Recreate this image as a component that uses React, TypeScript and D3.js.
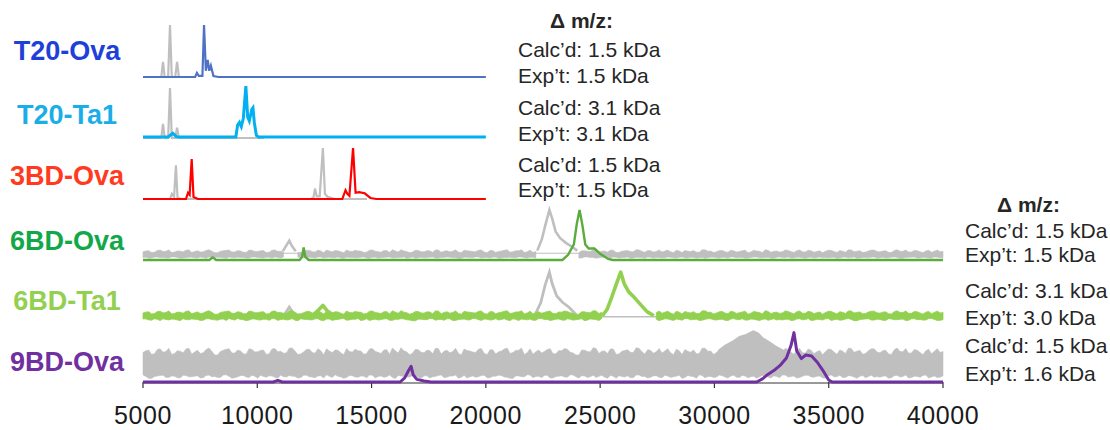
import React from "react";
import * as d3 from "d3";

type Pt = [number, number];

// ---------- data ----------
const X_TICKS = [5000, 10000, 15000, 20000, 25000, 30000, 35000, 40000];
const SAMPLE_NAMES = ["T20-Ova", "T20-Ta1", "3BD-Ova", "6BD-Ova", "6BD-Ta1", "9BD-Ova"];
const DELTA_TITLE = "Δ m/z:";
const ANNOT_TOP = [
  ["Calc’d: 1.5 kDa", "Exp’t: 1.5 kDa"],
  ["Calc’d: 3.1 kDa", "Exp’t: 3.1 kDa"],
  ["Calc’d: 1.5 kDa", "Exp’t: 1.5 kDa"],
];
const ANNOT_BOTTOM = [
  ["Calc’d: 1.5 kDa", "Exp’t: 1.5 kDa"],
  ["Calc’d: 3.1 kDa", "Exp’t: 3.0 kDa"],
  ["Calc’d: 1.5 kDa", "Exp’t: 1.6 kDa"],
];

// T20-Ova
const T20_OVA_CTRL: Pt[] = [[5000,0],[5800,0],[5875,0.29],[5950,0],[6100,0],[6181,1.0],[6260,0],[6410,0],[6490,0.29],[6570,0],[7200,0]];
const T20_OVA_CONJ: Pt[] = [[5000,0],[7280,0],[7360,0.08],[7440,0.02],[7600,0.02],[7670,1.0],[7750,0.12],[7830,0.33],[7900,0.12],[7970,0.22],[8080,0.02],[8300,0],[20000,0]];
// T20-Ta1
const T20_TA1_CTRL: Pt[] = [[5000,0],[5800,0],[5875,0.27],[5950,0],[6100,0],[6181,0.96],[6260,0],[6410,0],[6490,0.2],[6570,0],[10300,0]];
const T20_TA1_CONJ: Pt[] = [[5000,0.02],[6100,0.02],[6300,0.09],[6480,0.02],[9060,0.02],[9140,0.25],[9220,0.3],[9300,0.22],[9390,0.38],[9500,1.0],[9580,0.4],[9650,0.33],[9760,0.55],[9810,0.58],[9870,0.3],[9960,0.05],[10060,0.02],[20000,0.02]];
// 3BD-Ova
const BD3_OVA_CTRL: Pt[] = [[5000,0],[6180,0],[6260,0.1],[6360,0.04],[6440,0.65],[6510,0.03],[6650,0],[12350,0],[12460,0.03],[12525,0.2],[12600,0.05],[12730,0.05],[12870,0.98],[12960,0.1],[13080,0.04],[13400,0],[14800,0]];
const BD3_OVA_CONJ: Pt[] = [[5000,0],[6880,0],[6970,0.12],[7040,0.08],[7130,0.77],[7210,0.04],[7400,0],[13720,0],[13860,0.17],[13940,0.1],[14030,0.06],[14190,0.98],[14300,0.12],[14450,0.13],[14700,0.11],[14950,0.02],[15200,0],[20000,0]];
// 6BD-Ova
const BD6_OVA_CTRL_PEAKS: Pt[][] = [
  [[11120,0.17],[11300,0.3],[11400,0.37],[11500,0.28],[11680,0.17]],
  [[22250,0.18],[22450,0.4],[22620,0.7],[22780,0.96],[22900,0.8],[23050,0.55],[23250,0.42],[23500,0.33],[23750,0.26],[24000,0.18]],
];
const BD6_OVA_CTRL_GAPS: Pt[] = [[11150, 11650], [22280, 23980]];
const BD6_OVA_CONJ: Pt[] = [[5000,0],[7900,0],[8050,0.05],[8200,0],[11850,0],[11960,0.06],[12030,0.24],[12100,0.06],[12250,0],[23350,0],[23600,0.1],[23850,0.3],[23980,0.7],[24100,0.96],[24220,0.68],[24350,0.3],[24500,0.22],[24750,0.22],[25000,0.12],[25350,0.02],[25550,0],[40000,0]];
// 6BD-Ta1
const BD6_TA1_CTRL_PEAKS: Pt[][] = [
  [[11150,0.1],[11400,0.27],[11650,0.1]],
  [[22150,0.12],[22400,0.35],[22600,0.7],[22780,0.94],[22900,0.72],[23100,0.48],[23350,0.36],[23650,0.26],[23950,0.12]],
];
const BD6_TA1_CONJ_PEAKS: Pt[][] = [
  [[12450,0.12],[12700,0.22],[12870,0.3],[13050,0.2],[13300,0.12]],
  [[25100,0.1],[25300,0.22],[25500,0.45],[25700,0.7],[25900,0.94],[26050,0.72],[26250,0.56],[26500,0.45],[26800,0.3],[27050,0.18],[27350,0.1]],
];
const BD6_TA1_CONJ_GAPS: Pt[] = [[25100, 27350]];
// 9BD-Ova
const BD9_OVA_CTRL_HUMP: Pt[] = [[30200,0.6],[30500,0.7],[30800,0.77],[31100,0.86],[31400,0.9],[31700,0.97],[31900,0.93],[32100,0.84],[32400,0.76],[32700,0.67],[33000,0.6]];
const BD9_OVA_CONJ: Pt[] = [[5000,0],[10700,0],[10900,0.03],[11100,0],[16250,0],[16450,0.08],[16620,0.22],[16730,0.3],[16820,0.14],[16980,0.05],[17300,0.02],[17600,0],[31850,0],[32100,0.06],[32350,0.15],[32600,0.22],[32900,0.33],[33150,0.46],[33350,0.7],[33480,0.95],[33600,0.6],[33800,0.45],[34000,0.52],[34250,0.5],[34500,0.38],[34750,0.22],[35000,0.04],[35150,0],[40000,0]];

// hand-read noise texture (relative amplitude 0..1), two interleaved sample sets
const NOISE_A = [
  0.42,0.71,0.28,0.86,0.55,0.19,0.64,0.38,0.93,0.47,
  0.31,0.77,0.58,0.12,0.69,0.88,0.35,0.61,0.22,0.79,
  0.51,0.73,0.27,0.91,0.57,0.36,0.97,0.18,0.49,0.82,
  0.33,0.63,0.87,0.41,0.68,0.15,0.53,0.81,0.59,0.29,
  0.89,0.44,0.72,0.21,0.62,0.99,0.48,0.34,0.76,0.39,
  0.65,0.92,0.24,0.70,0.52,0.32,0.84,0.60,0.43,0.90,
  0.14,0.74,0.50,0.83,0.30,0.67,0.95,0.40,0.20,0.72,
  0.54,0.88,0.26,0.63,0.80,0.37,0.11,0.70,0.49,0.91,
  0.58,0.30,0.85,0.23,0.66,0.45,0.98,0.52,0.75,0.34,
  0.90,0.61,0.40,0.82,0.18,0.56,0.73,0.29,0.94,0.60,
  0.41,0.78,0.25,0.69,0.50,0.87,0.36,0.64,0.17,0.80,
  0.55,0.33,0.92,0.46,0.71,0.38,0.84,0.27,0.66,0.52,
  0.79,0.21,0.58,0.93,0.44,0.68,0.31,0.86,0.47,0.62,
  0.25,0.74,0.53,0.89,0.36,0.70,0.15,0.81,0.57,0.42,
];
const NOISE_B = [
  0.63,0.18,0.77,0.45,0.92,0.31,0.58,0.84,0.22,0.69,
  0.40,0.96,0.13,0.55,0.81,0.36,0.72,0.27,0.88,0.49,
  0.66,0.19,0.83,0.52,0.34,0.94,0.61,0.25,0.78,0.43,
  0.87,0.16,0.59,0.73,0.38,0.91,0.47,0.64,0.21,0.85,
  0.53,0.29,0.76,0.97,0.35,0.62,0.14,0.80,0.44,0.70,
  0.26,0.89,0.57,0.39,0.93,0.11,0.67,0.48,0.82,0.32,
  0.74,0.23,0.60,0.95,0.42,0.68,0.17,0.86,0.51,0.37,
  0.79,0.28,0.65,0.90,0.46,0.13,0.71,0.54,0.99,0.30,
  0.61,0.84,0.20,0.56,0.75,0.41,0.92,0.24,0.69,0.50,
  0.35,0.87,0.15,0.63,0.78,0.45,0.28,0.94,0.58,0.19,
  0.72,0.40,0.85,0.33,0.66,0.12,0.81,0.53,0.97,0.27,
  0.60,0.44,0.76,0.21,0.89,0.36,0.68,0.50,0.14,0.83,
  0.47,0.73,0.30,0.91,0.57,0.22,0.64,0.86,0.39,0.70,
  0.18,0.95,0.52,0.34,0.77,0.43,0.62,0.26,0.88,0.55,
];

// ---------- layout / style ----------
const W = 1110, H = 430;
const BASELINES = [77, 138, 199, 260, 321, 382];
const PANEL_H = 52;
const LABEL_Y = [60, 124, 185, 250, 310, 371];
const LABEL_COLORS = ["#1f3fdb", "#19aee8", "#ff3a1e", "#12a84a", "#92d050", "#7030a0"];
const LINE_COLORS = ["#4f72c6", "#00b0f0", "#ff0000", "#5aac3c", "#92d050", "#7030a0"];
const GRAY = "#bfbfbf";
const TEXT = "#262626";
const FONT = "Arial, 'Liberation Sans', sans-serif";

const NOISE: number[] = NOISE_A.flatMap((v, k) => [v, NOISE_B[k]]);

const x = d3.scaleLinear().domain([5000, 40000]).range([143, 943]);
const yFor = (i: number) => d3.scaleLinear().domain([0, 1]).range([BASELINES[i], BASELINES[i] - PANEL_H]);

function linePath(i: number, pts: Pt[]) {
  const y = yFor(i);
  return d3.line<Pt>().x((d) => x(d[0])).y((d) => y(d[1]))(pts) || "";
}

function noiseBand(i: number, lo: number, loAmp: number, hi: number, hiAmp: number, gaps: Pt[] = [], shift = 41) {
  const y = yFor(i);
  const n = NOISE.length;
  const step = (40000 - 5000) / (n - 1);
  const pts = NOISE.map((v, k) => ({
    mz: 5000 + k * step,
    lo: lo + loAmp * NOISE[(k + shift) % n],
    hi: hi + hiAmp * v,
  }));
  const inGap = (mz: number) => gaps.some(([a, b]) => mz > a && mz < b);
  return (
    d3
      .area<{ mz: number; lo: number; hi: number }>()
      .defined((d) => !inGap(d.mz))
      .x((d) => x(d.mz))
      .y0((d) => y(d.lo))
      .y1((d) => y(d.hi))(pts) || ""
  );
}

export default function App() {
  const deltaOffset = 32;
  const topAnnX = 518;
  const botAnnX = 965;
  return (
    <svg
      width={W}
      height={H}
      viewBox={`0 0 ${W} ${H}`}
      style={{ position: "absolute", left: 0, top: 0, background: "#fff" }}
      fontFamily={FONT}
    >
      <rect x={0} y={0} width={W} height={H} fill="#fff" />

      {/* Sample labels */}
      {SAMPLE_NAMES.map((s, i) => (
        <text key={s} x={67} y={LABEL_Y[i]} textAnchor="middle" fontSize={27} fontWeight="bold" fill={LABEL_COLORS[i]}>
          {s}
        </text>
      ))}

      {/* Panel 0: T20-Ova */}
      <path d={linePath(0, T20_OVA_CTRL)} fill="none" stroke={GRAY} strokeWidth={2.2} />
      <path d={linePath(0, T20_OVA_CONJ)} fill="none" stroke={LINE_COLORS[0]} strokeWidth={2.2} />

      {/* Panel 1: T20-Ta1 */}
      <path d={linePath(1, T20_TA1_CTRL)} fill="none" stroke={GRAY} strokeWidth={2.2} />
      <path d={linePath(1, T20_TA1_CONJ)} fill="none" stroke={LINE_COLORS[1]} strokeWidth={3} />

      {/* Panel 2: 3BD-Ova */}
      <path d={linePath(2, BD3_OVA_CTRL)} fill="none" stroke={GRAY} strokeWidth={2.2} />
      <path d={linePath(2, BD3_OVA_CONJ)} fill="none" stroke={LINE_COLORS[2]} strokeWidth={2.2} />

      {/* Panel 3: 6BD-Ova */}
      <path d={linePath(3, [[5000, 0.13], [40000, 0.13]])} fill="none" stroke={GRAY} strokeWidth={1.2} />
      <path d={noiseBand(3, 0.03, 0.03, 0.13, 0.07, BD6_OVA_CTRL_GAPS)} fill={GRAY} stroke={GRAY} strokeWidth={0.6} />
      {BD6_OVA_CTRL_PEAKS.map((p, k) => (
        <path key={k} d={linePath(3, p)} fill="none" stroke={GRAY} strokeWidth={2.6} />
      ))}
      <path d={linePath(3, BD6_OVA_CONJ)} fill="none" stroke={LINE_COLORS[3]} strokeWidth={2.4} />

      {/* Panel 4: 6BD-Ta1 */}
      <path d={linePath(4, [[5000, 0.08], [40000, 0.08]])} fill="none" stroke={GRAY} strokeWidth={1.5} />
      {BD6_TA1_CTRL_PEAKS.map((p, k) => (
        <path key={k} d={linePath(4, p)} fill="none" stroke={GRAY} strokeWidth={2.8} />
      ))}
      <path d={noiseBand(4, 0.0, 0.05, 0.12, 0.08, BD6_TA1_CONJ_GAPS, 57)} fill={LINE_COLORS[4]} stroke={LINE_COLORS[4]} strokeWidth={0.8} />
      {BD6_TA1_CONJ_PEAKS.map((p, k) => (
        <path key={k} d={linePath(4, p)} fill="none" stroke={LINE_COLORS[4]} strokeWidth={3.6} strokeLinejoin="round" />
      ))}

      {/* Panel 5: 9BD-Ova */}
      <path d={noiseBand(5, 0.06, 0.08, 0.5, 0.16, [], 23)} fill={GRAY} stroke={GRAY} strokeWidth={0.6} />
      <path
        d={linePath(5, [[30200, 0.5], ...BD9_OVA_CTRL_HUMP, [33000, 0.5]])}
        fill={GRAY}
        stroke={GRAY}
        strokeWidth={2.5}
        strokeLinejoin="round"
      />

      {/* x axis */}
      <line x1={x(5000)} x2={x(40000)} y1={BASELINES[5] + 1} y2={BASELINES[5] + 1} stroke="#333" strokeWidth={1} />
      {X_TICKS.map((t) => (
        <g key={t}>
          <line x1={x(t)} x2={x(t)} y1={BASELINES[5]} y2={BASELINES[5] + 6} stroke="#333" strokeWidth={1.2} />
          <text x={x(t)} y={424} textAnchor="middle" fontSize={25} fill="#1a1a1a" letterSpacing={0.6}>
            {t}
          </text>
        </g>
      ))}
      <path d={linePath(5, BD9_OVA_CONJ)} fill="none" stroke={LINE_COLORS[5]} strokeWidth={3} strokeLinejoin="round" />

      {/* annotations top */}
      <text x={topAnnX + deltaOffset} y={28} fontSize={21} fontWeight="bold" fill={TEXT}>
        {DELTA_TITLE}
      </text>
      {ANNOT_TOP.map((pair, k) => (
        <g key={k}>
          <text x={topAnnX} y={[57, 115, 172][k]} fontSize={21} fill={TEXT}>
            {pair[0]}
          </text>
          <text x={topAnnX} y={[83, 141, 197][k]} fontSize={21} fill={TEXT}>
            {pair[1]}
          </text>
        </g>
      ))}

      {/* annotations bottom */}
      <text x={botAnnX + deltaOffset} y={212} fontSize={21} fontWeight="bold" fill={TEXT}>
        {DELTA_TITLE}
      </text>
      {ANNOT_BOTTOM.map((pair, k) => (
        <g key={k}>
          <text x={botAnnX} y={[238, 298, 353][k]} fontSize={21} fill={TEXT}>
            {pair[0]}
          </text>
          <text x={botAnnX} y={[262, 325, 381][k]} fontSize={21} fill={TEXT}>
            {pair[1]}
          </text>
        </g>
      ))}
    </svg>
  );
}
